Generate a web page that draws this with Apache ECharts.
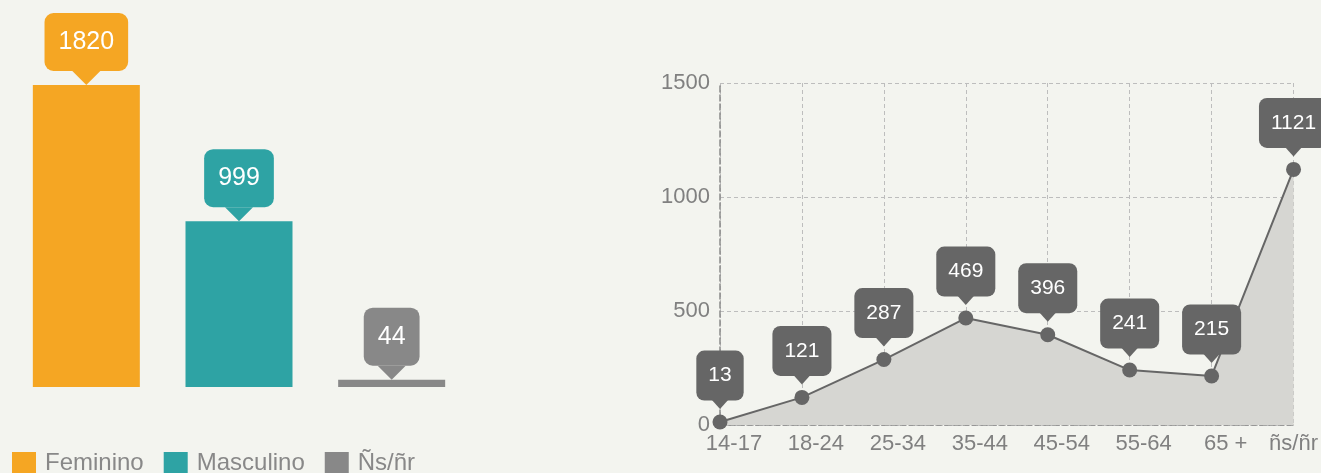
<!DOCTYPE html>
<html>
<head>
<meta charset="utf-8">
<script src="https://cdn.jsdelivr.net/npm/echarts@6/dist/echarts.min.js"></script>
<style>
html,body{margin:0;padding:0;background:#F3F4EF;}
#c{width:1321px;height:473px;}
</style>
</head>
<body>
<div id="c"></div>
<script>
const genderCats = ['Feminino', 'Masculino', 'Ñs/ñr'];
const genderValues = [1820, 999, 44];
const genderColors = ['#F5A623', '#2EA3A4', '#888888'];

const ageCats = ['14-17', '18-24', '25-34', '35-44', '45-54', '55-64', '65 +', 'ñs/ñr'];
const ageValues = [13, 121, 287, 469, 396, 241, 215, 1121];
const yTicks = [0, 500, 1000, 1500];

const FONT = 'Liberation Sans, Arial, sans-serif';
const chart = echarts.init(document.getElementById('c'));

const barSeries = genderCats.map((name, i) => ({
  name: name,
  type: 'bar',
  stack: 'g',
  xAxisIndex: 0, yAxisIndex: 0,
  barWidth: 107,
  itemStyle: { color: genderColors[i] },
  data: genderValues.map((v, j) => (j === i ? v : '-')),
  label: {
    show: true,
    position: 'top',
    distance: 14,
    color: '#fff',
    fontFamily: FONT,
    fontSize: 25,
    lineHeight: 26,
    backgroundColor: genderColors[i],
    borderRadius: 9,
    padding: [16, 14]
  },
  animation: false
}));

const barPointers = {
  type: 'scatter',
  xAxisIndex: 0, yAxisIndex: 0,
  symbol: 'triangle',
  symbolRotate: 180,
  symbolSize: [28, 14],
  symbolOffset: [0, -7],
  silent: true,
  z: 5,
  data: genderValues.map((v, i) => ({ value: v, itemStyle: { color: genderColors[i], opacity: 1 } })),
  animation: false
};

const lineSeries = {
  type: 'line',
  xAxisIndex: 1, yAxisIndex: 1,
  data: ageValues,
  symbol: 'circle',
  symbolSize: 15,
  lineStyle: { color: '#666', width: 2 },
  itemStyle: { color: '#666' },
  areaStyle: { color: '#D6D6D2', opacity: 1 },
  label: {
    show: true,
    position: 'top',
    distance: 14,
    color: '#fff',
    fontFamily: FONT,
    fontSize: 21,
    lineHeight: 22,
    backgroundColor: '#666666',
    borderRadius: 8,
    padding: [14, 12]
  },
  z: 3,
  animation: false
};

const linePointers = {
  type: 'scatter',
  xAxisIndex: 1, yAxisIndex: 1,
  symbol: 'triangle',
  symbolRotate: 180,
  symbolSize: [18, 10],
  symbolOffset: [0, -18],
  itemStyle: { color: '#666666', opacity: 1 },
  silent: true,
  z: 5,
  data: ageValues,
  animation: false
};

chart.setOption({
  backgroundColor: '#F3F4EF',
  textStyle: { fontFamily: FONT },
  legend: {
    data: genderCats,
    left: 12,
    top: 451,
    padding: 0,
    icon: 'rect',
    itemWidth: 24,
    itemHeight: 22,
    itemGap: 20,
    textStyle: { fontSize: 24, color: '#888', fontFamily: FONT, padding: [0, 0, 0, 4] }
  },
  grid: [
    { left: 10, width: 458, top: 85, bottom: 86 },
    { left: 720, right: 27, top: 83, bottom: 48 }
  ],
  xAxis: [
    {
      type: 'category', gridIndex: 0, data: genderCats,
      axisLine: { show: false }, axisTick: { show: false }, axisLabel: { show: false }
    },
    {
      type: 'category', gridIndex: 1, boundaryGap: false,
      data: ageCats.map((c, i) => i === ageCats.length - 1
        ? { value: c, textStyle: { padding: 0 } }
        : c),
      axisLine: { lineStyle: { color: '#8a8a8a', type: [6, 3], width: 1.5 } },
      axisTick: { show: false },
      axisLabel: { color: '#808080', fontSize: 22, fontFamily: FONT, margin: 8, padding: [0, 0, 0, 28] },
      splitLine: { show: true, lineStyle: { color: '#BDBDBD', type: [4, 3], width: 1 } }
    }
  ],
  yAxis: [
    {
      type: 'value', gridIndex: 0, min: 0, max: 1820,
      axisLine: { show: false }, axisTick: { show: false }, axisLabel: { show: false }, splitLine: { show: false }
    },
    {
      type: 'value', gridIndex: 1, min: yTicks[0], max: yTicks[yTicks.length - 1], interval: 500,
      axisLine: { show: true, lineStyle: { color: '#8a8a8a', type: [6, 3], width: 1.5 } },
      axisTick: { show: false },
      axisLabel: { color: '#808080', fontSize: 22, fontFamily: FONT, margin: 10, formatter: v => String(v) },
      splitLine: { show: true, lineStyle: { color: '#BDBDBD', type: [4, 3], width: 1 } }
    }
  ],
  series: [...barSeries, barPointers, lineSeries, linePointers]
});
</script>
</body>
</html>
